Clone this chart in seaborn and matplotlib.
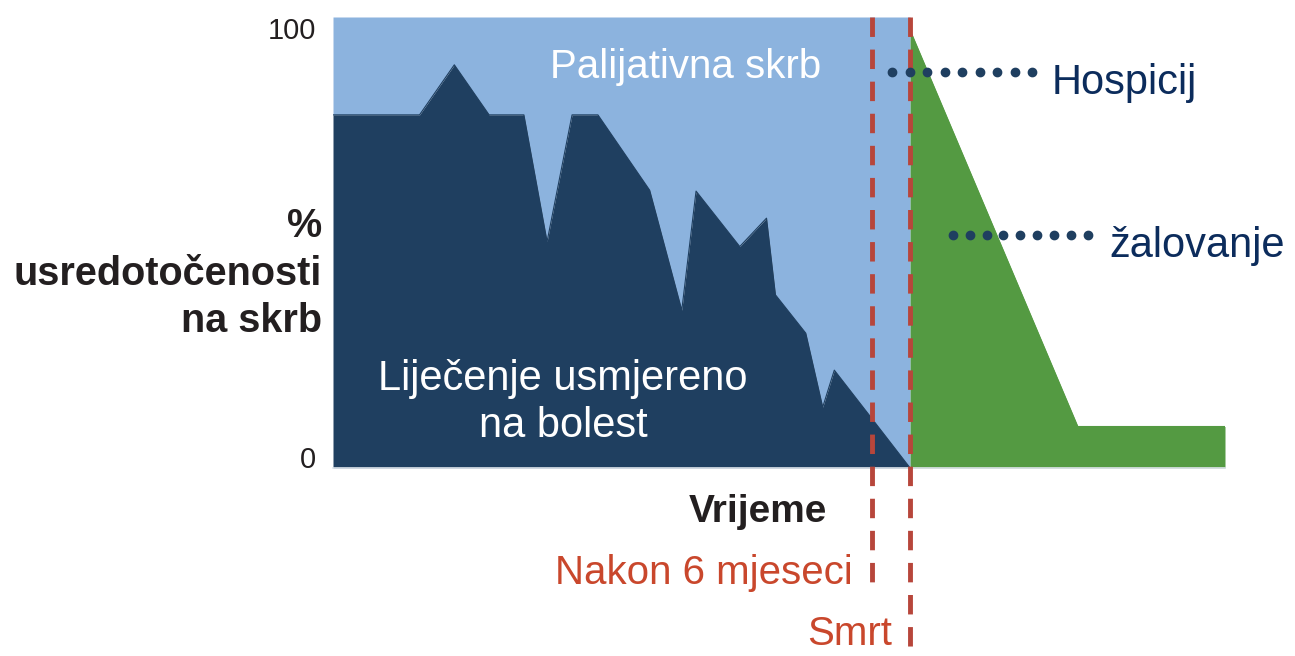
import numpy as np
import matplotlib
matplotlib.use('Agg')
import matplotlib.pyplot as plt
import seaborn as sns

# time axis in arbitrary units (0 = diagnosis, 100 = end of chart)
care_time = [0, 9.7, 13.6, 17.5, 21.4, 24.0, 26.8, 29.7, 35.5, 39.1, 40.7,
             45.6, 48.6, 49.6, 53.0, 54.9, 56.2, 60.4, 64.7]
disease_focus = [78.3, 78.3, 89.4, 78.3, 78.3, 50.2, 78.3, 78.3, 61.6, 35.0, 61.4,
                 49.1, 55.4, 38.4, 29.9, 13.5, 21.7, 11.0, 0]
palliative_top = [100] * len(care_time)

grief_time = [64.7, 83.5, 100]
grief_focus = [97.1, 9.2, 9.2]

six_months = 60.4
death = 64.7

light_blue = '#8cb3de'
navy = '#1f3f60'
green = '#549a42'
dash_red = '#b7463b'
text_navy = '#0c2c5c'
text_red = '#c9472c'
text_black = '#231f20'

sns.set_theme(style='white')
plt.rcParams['font.family'] = ['Liberation Sans', 'DejaVu Sans']

W, H = 1295, 656
fig = plt.figure(figsize=(W / 100, H / 100), dpi=100)
ax = fig.add_axes([333 / W, 188 / H, 892 / W, 451 / H])


def px(x, y):
    return x / W, 1 - y / H


# areas
ax.fill_between(care_time, disease_focus, palliative_top, color=light_blue, lw=0)
ax.fill_between(care_time, 0, disease_focus, color=navy, lw=0)
ax.fill_between(grief_time, 0, grief_focus, color=green, lw=0)
sns.lineplot(x=care_time, y=disease_focus, ax=ax, color=navy, lw=0.8,
             estimator=None, sort=False)
sns.lineplot(x=grief_time, y=grief_focus, ax=ax, color=green, lw=0.8,
             estimator=None, sort=False)

ax.set_xlim(0, 100)
ax.set_ylim(0, 100)

# dashed markers for 6 months and death (drawn top -> down so a dash starts at top)
ax.axvline(six_months, ymin=1, ymax=-0.27, color=dash_red, lw=3.5,
           dashes=(4, 2.6), clip_on=False, zorder=5)
ax.axvline(death, ymin=1, ymax=-0.42, color=dash_red, lw=3.5,
           dashes=(4, 2.6), clip_on=False, zorder=5)

# dotted leaders
ax.plot(np.linspace(62.7, 78.4, 9), [87.8] * 9, 'o', color=navy, ms=6,
        zorder=6, clip_on=False)
ax.plot(np.linspace(69.5, 84.6, 9), [51.7] * 9, 'o', color=navy, ms=6,
        zorder=6, clip_on=False)

# axes styling
for s in ['top', 'right', 'left']:
    ax.spines[s].set_visible(False)
ax.spines['bottom'].set_color('#dde4ec')
ax.spines['bottom'].set_linewidth(1.2)
ax.set_xticks([])
ax.set_yticks([0, 100])
ax.set_yticklabels(['0', '100'], fontsize=21, color=text_black)
ax.tick_params(axis='y', length=0, pad=12)
lbls = ax.get_yticklabels()
lbls[0].set_va('baseline')
lbls[1].set_va('top')

# y label
for txt, yb in [('%', 237), ('usredotočenosti', 285), ('na skrb', 332)]:
    fig.text(*px(322, yb), txt, ha='right', va='baseline', fontsize=28.5,
             fontweight='bold', color=text_black)

# labels inside the chart
fig.text(*px(686, 78), 'Palijativna skrb', ha='center', va='baseline',
         fontsize=29, color='white')
fig.text(*px(563, 390), 'Liječenje usmjereno', ha='center', va='baseline',
         fontsize=30, color='white')
fig.text(*px(563, 437), 'na bolest', ha='center', va='baseline',
         fontsize=30, color='white')

fig.text(*px(1052, 94), 'Hospicij', ha='left', va='baseline', fontsize=30,
         color=text_navy)
fig.text(*px(1109, 257), 'žalovanje', ha='left', va='baseline', fontsize=30,
         color=text_navy)

fig.text(*px(758, 522), 'Vrijeme', ha='center', va='baseline', fontsize=28,
         fontweight='bold', color=text_black)
fig.text(*px(853, 584), 'Nakon 6 mjeseci', ha='right', va='baseline',
         fontsize=29, color=text_red)
fig.text(*px(892, 645), 'Smrt', ha='right', va='baseline', fontsize=29,
         color=text_red)

fig.savefig('out.png', dpi=100)
